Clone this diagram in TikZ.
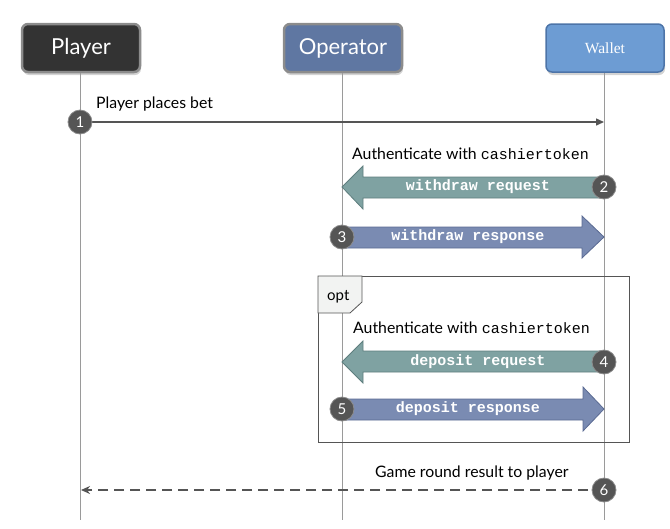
\documentclass[tikz,border=0pt]{standalone}
\usepackage{fontspec}
\setmainfont{Lato}
\newfontfamily\monof{Liberation Mono}
\newfontfamily\serf{Liberation Serif}
\usetikzlibrary{shadows,arrows.meta}
\definecolor{lifec}{HTML}{9A9A9A}
\definecolor{msgc}{HTML}{555555}
\definecolor{reqfill}{HTML}{7FA2A2}
\definecolor{reqdraw}{HTML}{5E7E7E}
\definecolor{resfill}{HTML}{7A8BB2}
\definecolor{resdraw}{HTML}{5A6A92}
\definecolor{playerfill}{HTML}{333333}
\definecolor{opfill}{HTML}{5F77A2}
\definecolor{walletfill}{HTML}{6D9CD3}
\definecolor{walletdraw}{HTML}{4D74A8}
\definecolor{bordergray}{HTML}{8C8C8C}
\definecolor{tabfill}{HTML}{F2F3F2}
\tikzset{
  actor/.style={rounded corners=6pt, minimum width=118pt, minimum height=48pt,
    text=white, font=\fontsize{22}{25}\selectfont,
    drop shadow={shadow xshift=1pt, shadow yshift=-3pt, opacity=0.35}},
  lifeline/.style={draw=lifec, line width=0.9pt},
  num/.style={circle, fill=msgc, draw=bordergray, line width=0.8pt, minimum size=24pt,
    inner sep=0pt, text=white, font=\fontsize{15}{17}\selectfont},
  lbl/.style={font=\fontsize{15.8}{18}\selectfont, inner sep=0pt, anchor=base west},
  arrtext/.style={font=\monof\bfseries\fontsize{15}{16}\selectfont, text=white, inner sep=0pt},
  reqarrow/.style={fill=reqfill, draw=reqdraw, line width=0.8pt},
  resarrow/.style={fill=resfill, draw=resdraw, line width=0.8pt},
}
\begin{document}
\begin{tikzpicture}[x=1pt,y=-1pt]
\useasboundingbox (0,0) rectangle (670,528);
% actors
\node[actor, fill=playerfill, draw=bordergray, line width=2.5pt] (player) at (81,48) {Player};
\node[actor, fill=opfill, draw=bordergray, line width=2.5pt] (operator) at (343,48) {Operator};
\node[actor, fill=walletfill, draw=walletdraw, line width=1.5pt, font=\serf\fontsize{15.5}{17}\selectfont] (wallet) at (605,48) {Wallet};
% lifeline ends
\coordinate (pend) at (80,520);
\coordinate (oend) at (342,520);
\coordinate (wend) at (604,520);
\draw[lifeline] (player.south -| pend) -- (pend);
\draw[lifeline] (operator.south -| oend) -- (oend);
\draw[lifeline] (wallet.south -| wend) -- (wend);
% opt frame
\draw[draw=msgc, line width=0.9pt] (318,276) rectangle (629,442);
\path[fill=tabfill, draw=msgc, line width=0.8pt] (318,276) -- (362,276) -- (362,302) -- (350,313) -- (318,313) -- cycle;
\node[lbl, font=\fontsize{15}{17}\selectfont] (opt) at (327,300) {opt};
% message 1
\coordinate (m1s) at (80,122);
\coordinate (m1e) at (604,122);
\draw[draw=msgc, line width=1.5pt, -{Triangle[length=8pt,width=7pt]}] (m1s) -- (m1e);
\node[lbl] (t1) at (96,108) {Player places bet};
\node[num] (n1) at (m1s) {1};
% message 2: withdraw request
\node[lbl] (a2) at (352,159) {Authenticate with {\monof\fontsize{15}{16}\selectfont cashiertoken}};
\path[reqarrow] (604,177) -- (363,177) -- (363,166) -- (342,187) -- (363,209) -- (363,198) -- (604,198) -- cycle;
\node[arrtext] (w2) at (478,187) {withdraw request};
\node[num] (n2) at (604,187) {2};
% message 3: withdraw response
\path[resarrow] (342,227) -- (582,227) -- (582,216) -- (604,237) -- (582,258) -- (582,248) -- (342,248) -- cycle;
\node[arrtext] (w3) at (468,237) {withdraw response};
\node[num] (n3) at (342,237) {3};
% message 4: deposit request
\node[lbl] (a4) at (353,333) {Authenticate with {\monof\fontsize{15}{16}\selectfont cashiertoken}};
\path[reqarrow] (604,351) -- (363,351) -- (363,341) -- (342,362) -- (363,383) -- (363,372) -- (604,372) -- cycle;
\node[arrtext] (d4) at (478,362) {deposit request};
\node[num] (n4) at (604,362) {4};
% message 5: deposit response
\path[resarrow] (342,399) -- (583,399) -- (583,387) -- (604,409) -- (583,431) -- (583,420) -- (342,420) -- cycle;
\node[arrtext] (d5) at (468,409) {deposit response};
\node[num] (n5) at (342,409) {5};
% message 6
\coordinate (m6s) at (604,490);
\coordinate (m6e) at (81,490);
\draw[draw=msgc, line width=2.2pt, dash pattern=on 10pt off 6pt, -{Stealth[length=9pt,width=8pt]}] (m6s) -- (m6e);
\node[lbl] (t6) at (375,477) {Game round result to player};
\node[num] (n6) at (m6s) {6};
\end{tikzpicture}
\end{document}
